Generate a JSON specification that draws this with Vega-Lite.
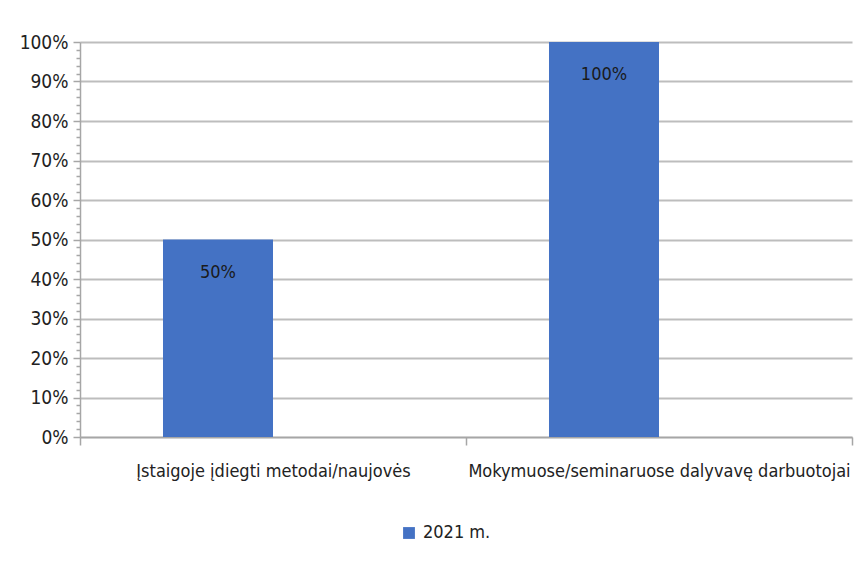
{
  "$schema": "https://vega.github.io/schema/vega-lite/v6.json",
  "width": 772,
  "height": 395,
  "autosize": {"type": "none"},
  "padding": {"left": 80, "top": 42, "right": 13, "bottom": 129},
  "background": "white",
  "config": {
    "view": {"stroke": null},
    "font": "DejaVu Sans Condensed, DejaVu Sans, sans-serif",
    "axis": {"labelFont": "DejaVu Sans Condensed, DejaVu Sans, sans-serif", "labelColor": "#222222", "labelFontSize": 19}
  },
  "data": {
    "values": [
      {"kategorija": "Įstaigoje įdiegti metodai/naujovės", "metai": "2021 m.", "reiksme": 0.5},
      {"kategorija": "Mokymuose/seminaruose dalyvavę darbuotojai", "metai": "2021 m.", "reiksme": 1.0}
    ]
  },
  "encoding": {
    "x": {
      "field": "kategorija",
      "type": "nominal",
      "sort": null,
      "scale": {"paddingInner": 0, "paddingOuter": 0},
      "axis": {
        "title": null,
        "labelAngle": 0,
        "labelLimit": 0,
        "labelFontSize": 18,
        "tickBand": "extent",
        "tickSize": 8,
        "tickColor": "#a6a6a6",
        "tickWidth": 1.5,
        "domainColor": "#a6a6a6",
        "domainWidth": 1.5,
        "labelPadding": 17,
        "grid": false
      }
    },
    "xOffset": {
      "field": "metai",
      "type": "nominal",
      "scale": {"domain": ["2021 m.", "-"], "paddingInner": 0, "paddingOuter": 0.7545}
    },
    "y": {
      "field": "reiksme",
      "type": "quantitative",
      "scale": {"domain": [0, 1], "nice": false},
      "axis": {
        "title": null,
        "format": ".0%",
        "values": [0,0.02,0.04,0.06,0.08,0.1,0.12,0.14,0.16,0.18,0.2,0.22,0.24,0.26,0.28,0.3,0.32,0.34,0.36,0.38,0.4,0.42,0.44,0.46,0.48,0.5,0.52,0.54,0.56,0.58,0.6,0.62,0.64,0.66,0.68,0.7,0.72,0.74,0.76,0.78,0.8,0.82,0.84,0.86,0.88,0.9,0.92,0.94,0.96,0.98,1],
        "labelExpr": "round(datum.value*100) % 10 === 0 ? datum.label : ''",
        "grid": true,
        "gridColor": "#bdbdbd",
        "gridWidth": 2,
        "gridOpacity": {"condition": {"test": "round(datum.value*100) % 10 === 0", "value": 1}, "value": 0},
        "tickSize": {"condition": {"test": "round(datum.value*100) % 10 === 0", "value": 7}, "value": 4},
        "tickColor": "#a6a6a6",
        "tickWidth": 1.5,
        "domainColor": "#a6a6a6",
        "domainWidth": 1.5,
        "labelPadding": 5
      }
    }
  },
  "layer": [
    {
      "mark": {"type": "bar", "color": "#4472C4"},
      "encoding": {
        "color": {
          "field": "metai",
          "type": "nominal",
          "scale": {"range": ["#4472C4"]},
          "legend": {
            "title": null,
            "orient": "none",
            "legendX": 320,
            "legendY": 482,
            "symbolType": "square",
            "symbolSize": 140,
            "symbolStrokeWidth": 0,
            "labelFontSize": 18,
            "labelFont": "DejaVu Sans Condensed, DejaVu Sans, sans-serif",
            "labelColor": "#222222",
            "labelOffset": 5
          }
        }
      }
    },
    {
      "mark": {"type": "text", "baseline": "middle", "dy": 33, "fontSize": 18, "color": "#1a1a1a", "font": "DejaVu Sans Condensed, DejaVu Sans, sans-serif"},
      "encoding": {
        "text": {"field": "reiksme", "type": "quantitative", "format": ".0%"}
      }
    }
  ]
}
